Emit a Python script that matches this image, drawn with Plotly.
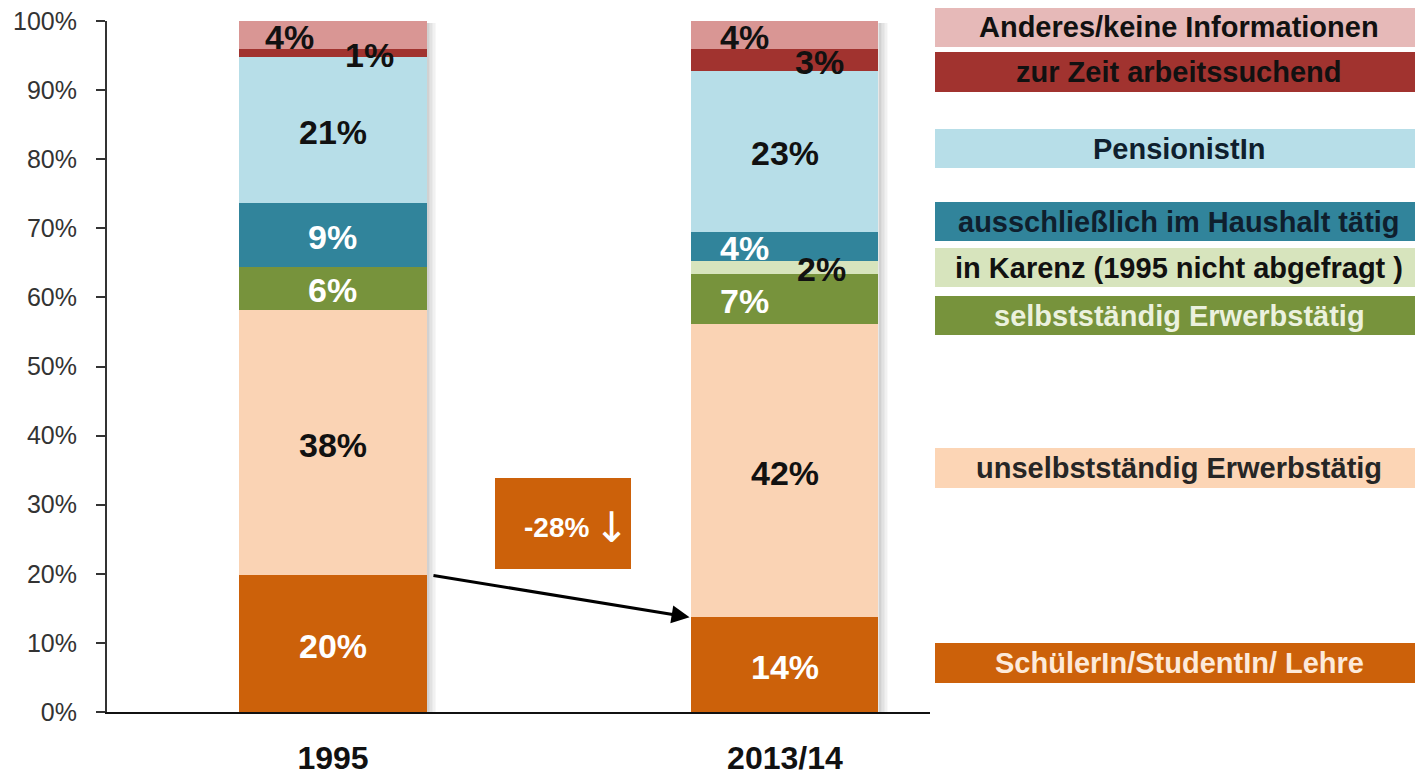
import plotly.graph_objects as go

# ---------------- data ----------------
categories = ["1995", "2013/14"]
series_names = [
    "SchülerIn/StudentIn/ Lehre",
    "unselbstständig Erwerbstätig",
    "selbstständig Erwerbstätig",
    "in Karenz (1995 nicht abgefragt )",
    "ausschließlich im Haushalt tätig",
    "PensionistIn",
    "zur Zeit arbeitssuchend",
    "Anderes/keine Informationen",
]
schueler = [19.8, 13.7]
unselbst = [38.4, 42.4]
selbst = [6.2, 7.3]
karenz = [0.0, 1.9]
haushalt = [9.2, 4.2]
pension = [21.2, 23.3]
arbeitssuchend = [1.1, 3.1]
anderes = [4.1, 4.1]
change_label = "-28%"
y_ticks = list(range(0, 101, 10))
y_tick_labels = [f"{v}%" for v in y_ticks]

series_values = [schueler, unselbst, selbst, karenz, haushalt, pension, arbeitssuchend, anderes]

# ---------------- styles ----------------
bar_colors = ["#CC610A", "#FAD3B4", "#77933C", "#D7E4BD", "#31849B", "#B7DEE8", "#A1332F", "#D99694"]
legend_colors = ["#CC610A", "#FCD5B5", "#77933C", "#D7E4BD", "#31849B", "#B7DEE8", "#A1332F", "#E6B9B8"]
legend_text_colors = ["#FDEADA", "#262626", "#EBF1DE", "#111111", "#0F1F2E", "#0F1F2E", "#111111", "#111111"]
label_colors = ["white", "#111111", "white", "#111111", "white", "#111111", "#111111", "#111111"]
# horizontal label offsets (px) per (series, category)
label_xshift = {
    (6, 0): 37, (7, 0): -43,
    (7, 1): -40, (6, 1): 35, (4, 1): -40, (3, 1): 37, (2, 1): -40,
}
# legend boxes in page pixels: (top, bottom)
legend_box_px = [(643, 683), (448, 488), (296, 335), (248, 287), (202, 241), (129, 168), (52, 92), (8, 47)]

# page is rendered with an 8px body margin -> figure sits at (8, 8)
OFF = 8
W, H = 1423 - OFF, 779 - OFF
PLOT_L, PLOT_R, PLOT_T, PLOT_B = 107, 930, 21, 712  # page pixels
L, T = PLOT_L - OFF, PLOT_T - OFF
R = W - (PLOT_R - OFF)
B = H - (PLOT_B - OFF)
PW, PH = PLOT_R - PLOT_L, PLOT_B - PLOT_T
X_RANGE = [-0.5, 1.321]
BAR_W = 0.414


def px_x(px):
    return (px - PLOT_L) / PW


def px_y(py):
    return (PLOT_B - py) / PH


SANS = "Liberation Sans, Arial, sans-serif"

fig = go.Figure()

# soft shadow strips on the right of each bar
unit_px = PW / (X_RANGE[1] - X_RANGE[0])
totals = [sum(s[i] for s in series_values) for i in range(len(categories))]
shapes = []
for i, tot in enumerate(totals):
    for k, op in enumerate([0.4, 0.25, 0.12]):
        x0 = i + BAR_W / 2 + k * 3 / unit_px
        shapes.append(dict(type="rect", xref="x", yref="y", x0=x0, x1=x0 + 3 / unit_px,
                           y0=0, y1=tot - 0.3, fillcolor="#8C8C8C", opacity=op,
                           line=dict(width=0), layer="below"))

for name, vals, col in zip(series_names, series_values, bar_colors):
    fig.add_trace(go.Bar(x=[0, 1], y=vals, name=name, marker=dict(color=col, line=dict(width=0)),
                         width=BAR_W, hoverinfo="skip", showlegend=False))

annotations = []
# value labels
for i in range(len(categories)):
    base = 0.0
    for s, vals in enumerate(series_values):
        v = vals[i]
        if v > 0:
            annotations.append(dict(
                x=i, y=base + v / 2, xref="x", yref="y", text=f"<b>{v:.0f}%</b>", showarrow=False,
                xshift=label_xshift.get((s, i), 0), yshift=-2, xanchor="center", yanchor="middle",
                font=dict(family=SANS, size=34, color=label_colors[s]),
            ))
        base += v

# legend boxes
for s, name in enumerate(series_names):
    top, bot = legend_box_px[s]
    shapes.append(dict(type="rect", xref="paper", yref="paper", x0=px_x(935), x1=px_x(1440),
                       y0=px_y(bot), y1=px_y(top), fillcolor=legend_colors[s], line=dict(width=0)))
    annotations.append(dict(x=px_x(1179), y=px_y((top + bot) / 2), xref="paper", yref="paper",
                            text=f"<b>{name}</b>", showarrow=False, xanchor="center", yanchor="middle",
                            font=dict(family=SANS, size=29, color=legend_text_colors[s])))

# change callout
shapes.append(dict(type="rect", xref="paper", yref="paper", x0=px_x(495), x1=px_x(631),
                   y0=px_y(569), y1=px_y(478), fillcolor="#CC610A", line=dict(width=0)))
annotations.append(dict(x=px_x(591), y=px_y(527), xref="paper", yref="paper",
                        text=f"<b>{change_label}</b>", showarrow=False, xanchor="right", yanchor="middle",
                        font=dict(family=SANS, size=28, color="white")))
annotations.append(dict(x=px_x(592), y=px_y(527), xref="paper", yref="paper",
                        text="↓", showarrow=False, xanchor="left", yanchor="middle",
                        font=dict(family="DejaVu Sans, sans-serif", size=42, color="white")))

# arrow from 1995 to 2013/14 Schüler segment
annotations.append(dict(x=1 - BAR_W / 2 - 0.004, y=schueler[1], xref="x", yref="y",
                        ax=BAR_W / 2 + 0.012, ay=schueler[0], axref="x", ayref="y",
                        text="", showarrow=True, arrowhead=2, arrowsize=1.2, arrowwidth=3,
                        arrowcolor="black"))

fig.update_layout(
    width=W, height=H,
    margin=dict(l=L, r=R, t=T, b=B, pad=0, autoexpand=False),
    barmode="stack",
    plot_bgcolor="white", paper_bgcolor="white",
    shapes=shapes, annotations=annotations,
    showlegend=False,
    xaxis=dict(range=X_RANGE, tickvals=[0, 1], ticktext=[f"<b>{c}</b>" for c in categories],
               showline=True, linecolor="#111111", linewidth=2, ticks="", showgrid=False,
               zeroline=False, ticklabelstandoff=17, ticklabeloverflow="allow",
               tickfont=dict(family=SANS, size=32, color="#111111")),
    yaxis=dict(range=[0, 100], tickvals=y_ticks, ticktext=y_tick_labels,
               showline=True, linecolor="#333333", linewidth=2, ticks="outside", ticklen=9,
               tickcolor="#333333", tickwidth=2, showgrid=False, zeroline=False,
               ticklabelstandoff=14, ticklabeloverflow="allow",
               tickfont=dict(family=SANS, size=25, color="#333333")),
)

fig.write_html("out.html")
